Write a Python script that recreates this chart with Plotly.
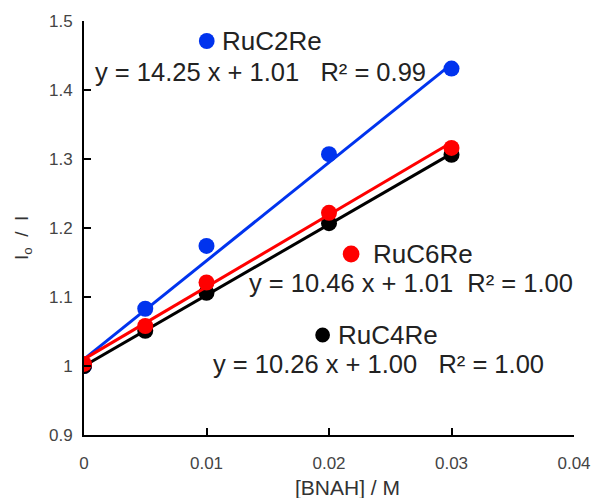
import plotly.graph_objects as go
import numpy as np

# ---- data ----
conc = [0.0, 0.005, 0.01, 0.02, 0.03]
series_names = ["RuC2Re", "RuC4Re", "RuC6Re"]
ruc2re = [1.0, 1.083, 1.174, 1.307, 1.431]
ruc4re = [1.0, 1.051, 1.106, 1.207, 1.306]
ruc6re = [1.003, 1.058, 1.121, 1.222, 1.316]
slopes = [14.25, 10.26, 10.46]
intercepts = [1.01, 1.00, 1.01]
r2_text = ["0.99", "1.00", "1.00"]
colors = ["#0033ee", "#000000", "#ff0000"]
x_ticks = [0, 0.01, 0.02, 0.03, 0.04]
y_ticks = [0.9, 1.0, 1.1, 1.2, 1.3, 1.4, 1.5]

W, H = 603, 498
L, R, T, B = 84, 20, 21, 63
pw, ph = W - L - R, H - T - B

def px(x):
    return (x - L) / pw

def py(y):
    return (H - B - y) / ph

fig = go.Figure()
ys = [ruc2re, ruc4re, ruc6re]
for name, yv, m, b, c in zip(series_names, ys, slopes, intercepts, colors):
    xf = np.array([conc[0], conc[-1]])
    fig.add_trace(go.Scatter(x=xf, y=m * xf + b, mode="lines",
                             line=dict(color=c, width=3), showlegend=False,
                             hoverinfo="skip"))
    fig.add_trace(go.Scatter(x=conc, y=yv, mode="markers", name=name,
                             marker=dict(color=c, size=16), showlegend=False))

font = "Liberation Sans, Arial, sans-serif"
txtc = "#222222"
ann = []
shapes = []

def label(xp, yp, text, size=25.5, color=txtc, anchor="left"):
    ann.append(dict(x=px(xp), y=py(yp), xref="paper", yref="paper",
                    text=text, showarrow=False, xanchor=anchor, yanchor="middle",
                    font=dict(family=font, size=size, color=color)))

def dot(xp, yp, color, d=16):
    r = d / 2
    shapes.append(dict(type="circle", xref="paper", yref="paper",
                       x0=px(xp - r), x1=px(xp + r), y0=py(yp + r), y1=py(yp - r),
                       fillcolor=color, line=dict(width=0)))

def eq(i, gap="   "):
    return f"y = {slopes[i]:.2f} x + {intercepts[i]:.2f}{gap}R² = {r2_text[i]}"

# RuC2Re
dot(209, 41, colors[0])
label(222, 41, series_names[0], size=26)
label(93, 72, eq(0), size=25.5)
# RuC6Re
dot(356, 254, colors[2], 17)
label(376, 254, series_names[2], size=26)
label(250, 283, eq(2, "  "), size=25.5)
# RuC4Re
dot(327, 335, colors[1], 15)
label(341, 335, series_names[1], size=26)
label(213, 364, eq(1), size=25.5)

# axis titles
ann.append(dict(x=px(352), y=py(487), xref="paper", yref="paper",
                text="[BNAH] / M", showarrow=False, xanchor="center", yanchor="middle",
                font=dict(family=font, size=21, color="#333333")))
ann.append(dict(x=px(22), y=py(238), xref="paper", yref="paper",
                text="I<sub>o</sub>  /  I", showarrow=False, xanchor="center", yanchor="middle",
                textangle=-90,
                font=dict(family=font, size=19, color="#333333")))
fig.update_layout(annotations=ann, shapes=shapes)

axis_common = dict(showgrid=False, zeroline=False, showline=True, linecolor="black",
                   linewidth=2, ticks="inside", ticklen=7, tickwidth=2, tickcolor="black",
                   tickfont=dict(family=font, size=17, color="#444444"))
fig.update_xaxes(range=[0, 0.04], tickvals=x_ticks,
                 ticktext=["0" if v == 0 else f"{v:g}" for v in x_ticks],
                 ticklabelstandoff=12, **axis_common)
fig.update_yaxes(range=[0.9, 1.5], tickvals=y_ticks,
                 ticktext=["1" if v == 1.0 else f"{v:g}" for v in y_ticks],
                 ticklabelstandoff=6, **axis_common)

fig.update_layout(width=W, height=H, margin=dict(l=L, r=R, t=T, b=B),
                  plot_bgcolor="white", paper_bgcolor="white", showlegend=False)
fig.write_html("out.html")
